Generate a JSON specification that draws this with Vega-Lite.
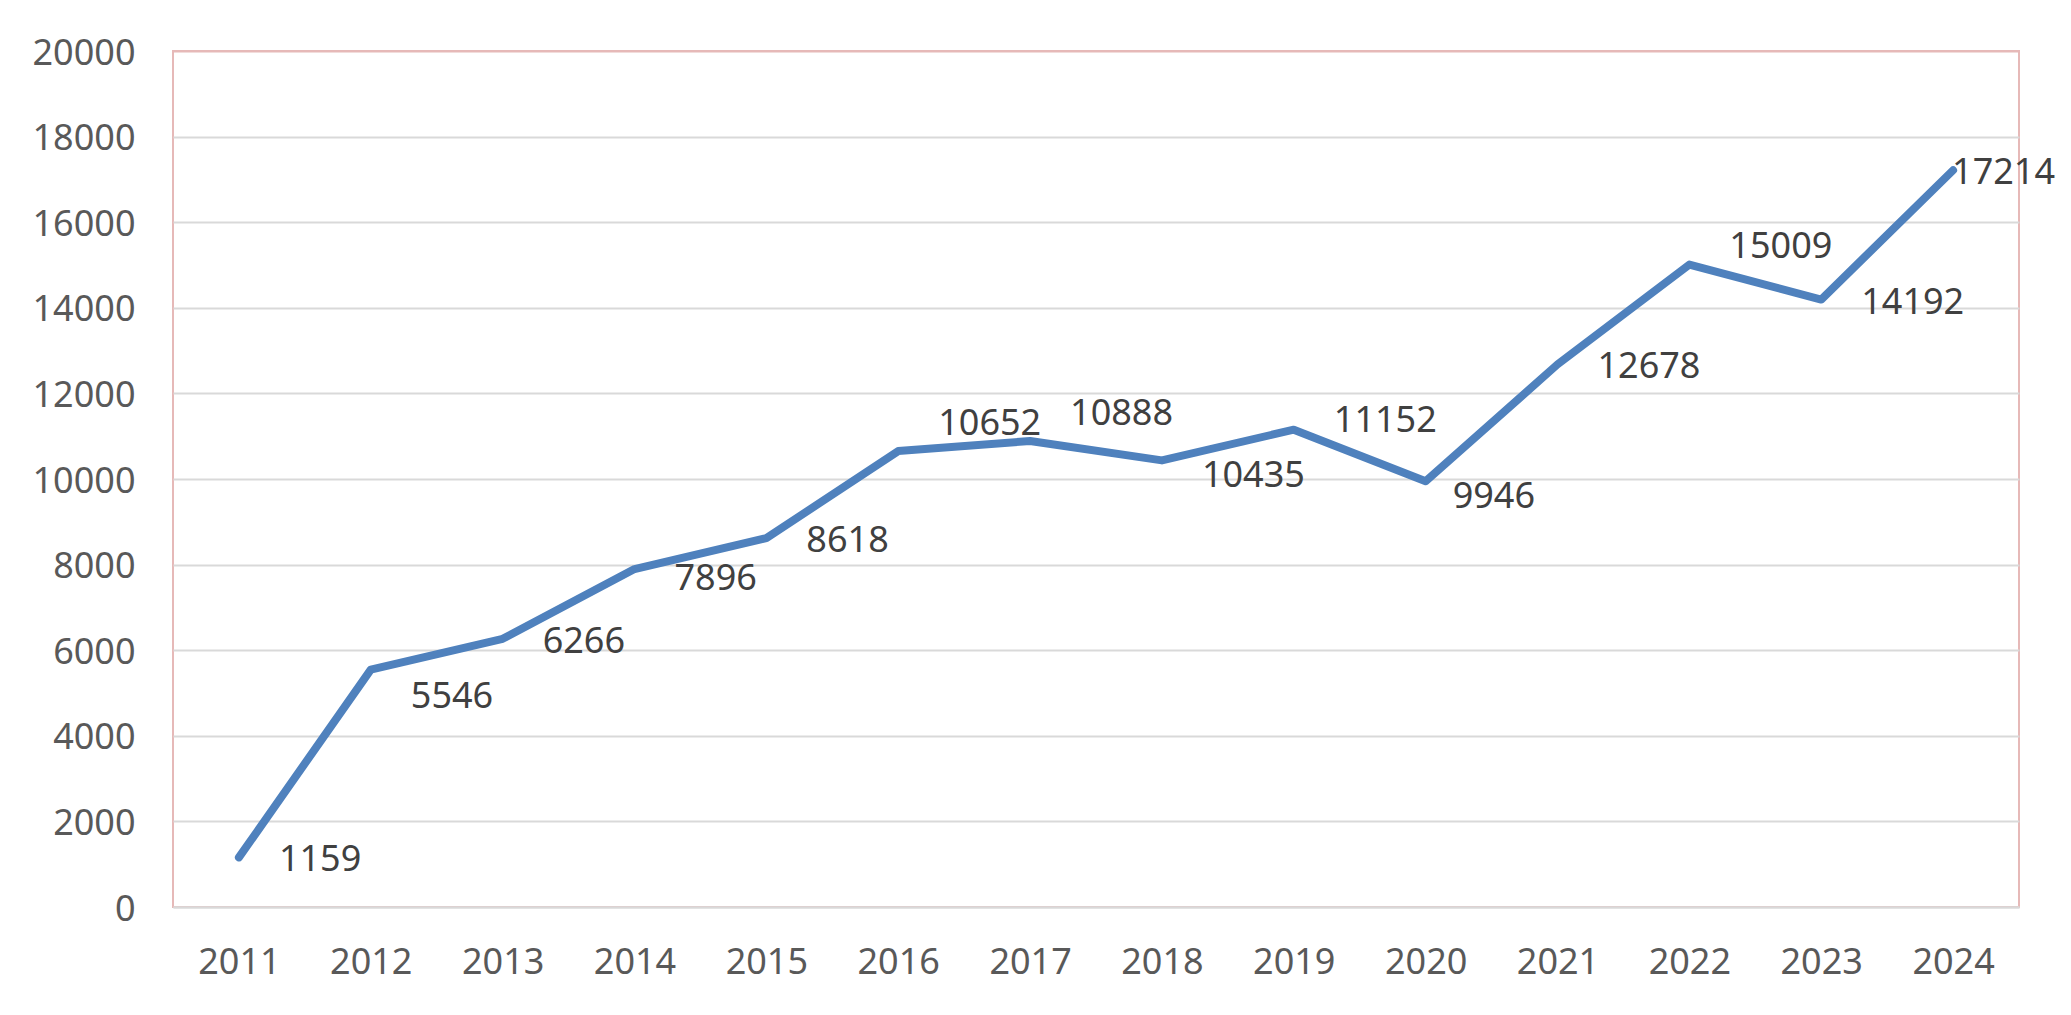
{
  "$schema": "https://vega.github.io/schema/vega-lite/v6.json",
  "width": 1846,
  "height": 856,
  "autosize": {"type": "none"},
  "padding": {"left": 173, "top": 51, "right": 52, "bottom": 108},
  "background": "white",
  "config": {
    "view": {"stroke": "#E6B9B8", "strokeWidth": 2},
    "font": "Noto Sans"
  },
  "data": {
    "values": [
      {"year": "2011", "value": 1159},
      {"year": "2012", "value": 5546},
      {"year": "2013", "value": 6266},
      {"year": "2014", "value": 7896},
      {"year": "2015", "value": 8618},
      {"year": "2016", "value": 10652},
      {"year": "2017", "value": 10888},
      {"year": "2018", "value": 10435},
      {"year": "2019", "value": 11152},
      {"year": "2020", "value": 9946},
      {"year": "2021", "value": 12678},
      {"year": "2022", "value": 15009},
      {"year": "2023", "value": 14192},
      {"year": "2024", "value": 17214}
    ]
  },
  "encoding": {
    "x": {
      "field": "year",
      "type": "ordinal",
      "sort": null,
      "scale": {"type": "point", "padding": 0.5},
      "axis": {
        "title": null,
        "labelAngle": 0,
        "labelFont": "Noto Sans",
        "labelFontSize": 36,
        "labelColor": "#595959",
        "labelPadding": 38,
        "labelBaseline": "top",
        "ticks": false,
        "tickSize": 0,
        "grid": false,
        "domain": true,
        "domainColor": "#D9D9D9",
        "domainWidth": 2
      }
    },
    "y": {
      "field": "value",
      "type": "quantitative",
      "scale": {"domain": [0, 20000], "nice": false, "zero": true},
      "axis": {
        "title": null,
        "values": [0, 2000, 4000, 6000, 8000, 10000, 12000, 14000, 16000, 18000, 20000],
        "format": "d",
        "labelFont": "Noto Sans",
        "labelFontSize": 36,
        "labelColor": "#595959",
        "labelPadding": 38,
        "labelOffset": 2,
        "ticks": false,
        "tickSize": 0,
        "domain": false,
        "grid": true,
        "gridColor": {"condition": {"test": "datum.value === 20000", "value": "#E6B9B8"}, "value": "#D9D9D9"},
        "gridWidth": 2
      }
    }
  },
  "layer": [
    {
      "mark": {"type": "line", "color": "#4F81BD", "strokeWidth": 8, "strokeCap": "round", "strokeJoin": "round"}
    },
    {
      "transform": [{"filter": {"field": "year", "oneOf": ["2011", "2013", "2015", "2021", "2023"]}}],
      "mark": {"type": "text", "align": "left", "baseline": "middle", "dx": 40, "dy": 3, "fontSize": 36, "font": "Noto Sans", "color": "#404040"},
      "encoding": {"text": {"field": "value", "type": "quantitative", "format": "d"}}
    },
    {
      "transform": [{"filter": {"field": "year", "equal": "2012"}}],
      "mark": {"type": "text", "align": "left", "baseline": "middle", "dx": 40, "dy": 27, "fontSize": 36, "font": "Noto Sans", "color": "#404040"},
      "encoding": {"text": {"field": "value", "type": "quantitative", "format": "d"}}
    },
    {
      "transform": [{"filter": {"field": "year", "equal": "2014"}}],
      "mark": {"type": "text", "align": "left", "baseline": "middle", "dx": 40, "dy": 10, "fontSize": 36, "font": "Noto Sans", "color": "#404040"},
      "encoding": {"text": {"field": "value", "type": "quantitative", "format": "d"}}
    },
    {
      "transform": [{"filter": {"field": "year", "oneOf": ["2016", "2017"]}}],
      "mark": {"type": "text", "align": "left", "baseline": "middle", "dx": 40, "dy": -27, "fontSize": 36, "font": "Noto Sans", "color": "#404040"},
      "encoding": {"text": {"field": "value", "type": "quantitative", "format": "d"}}
    },
    {
      "transform": [{"filter": {"field": "year", "equal": "2018"}}],
      "mark": {"type": "text", "align": "left", "baseline": "middle", "dx": 40, "dy": 16, "fontSize": 36, "font": "Noto Sans", "color": "#404040"},
      "encoding": {"text": {"field": "value", "type": "quantitative", "format": "d"}}
    },
    {
      "transform": [{"filter": {"field": "year", "equal": "2019"}}],
      "mark": {"type": "text", "align": "left", "baseline": "middle", "dx": 40, "dy": -9, "fontSize": 36, "font": "Noto Sans", "color": "#404040"},
      "encoding": {"text": {"field": "value", "type": "quantitative", "format": "d"}}
    },
    {
      "transform": [{"filter": {"field": "year", "equal": "2020"}}],
      "mark": {"type": "text", "align": "left", "baseline": "middle", "dx": 27, "dy": 16, "fontSize": 36, "font": "Noto Sans", "color": "#404040"},
      "encoding": {"text": {"field": "value", "type": "quantitative", "format": "d"}}
    },
    {
      "transform": [{"filter": {"field": "year", "equal": "2022"}}],
      "mark": {"type": "text", "align": "left", "baseline": "middle", "dx": 40, "dy": -18, "fontSize": 36, "font": "Noto Sans", "color": "#404040"},
      "encoding": {"text": {"field": "value", "type": "quantitative", "format": "d"}}
    },
    {
      "transform": [{"filter": {"field": "year", "equal": "2024"}}],
      "mark": {"type": "text", "align": "left", "baseline": "middle", "dx": -1, "dy": 3, "fontSize": 36, "font": "Noto Sans", "color": "#404040"},
      "encoding": {"text": {"field": "value", "type": "quantitative", "format": "d"}}
    }
  ]
}
